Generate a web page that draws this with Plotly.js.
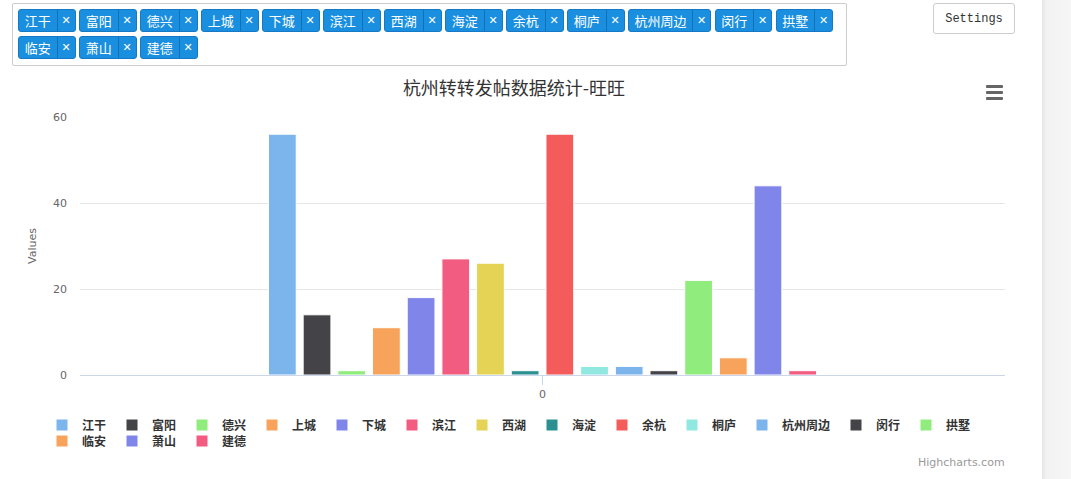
<!DOCTYPE html>
<html>
<head>
<meta charset="utf-8">
<script src="https://cdn.plot.ly/plotly-3.0.1.min.js"></script>
<style>
html,body{margin:0;padding:0;background:#fff;width:1071px;height:479px;overflow:hidden;}
#chart{position:absolute;left:0;top:0;width:1071px;height:479px;}
#tagbox{position:absolute;left:12px;top:3px;width:835px;height:63px;border:1px solid #ccc;border-radius:2px;box-sizing:border-box;}
.tag{position:absolute;display:flex;height:23px;background:#1a8fe0;border:1px solid #1579c6;border-radius:3px;box-sizing:border-box;color:#fff;font-family:"Noto Sans CJK SC",sans-serif;font-size:13px;line-height:21px;overflow:hidden;white-space:nowrap;}
.tag .lb{flex:1 1 auto;text-align:center;}
.tag .x{flex:0 0 17px;width:17px;text-align:center;border-left:1px solid #1470b5;font-size:11px;font-family:"DejaVu Sans",sans-serif;}
#settings{position:absolute;left:933px;top:3px;width:82px;height:31px;border:1px solid #ccc;border-radius:3px;box-sizing:border-box;font-family:"Liberation Mono",monospace;font-size:12px;color:#333;text-align:center;line-height:30px;background:#fff;}
#burger{position:absolute;left:986px;top:85px;width:17px;height:15px;}
#burger div{height:3px;background:#666;margin-bottom:3px;border-radius:1px;}
#shade{position:absolute;left:1042px;top:0;width:29px;height:479px;background:linear-gradient(to right,#e6e6e6 0px,#f2f2f2 5px,#f6f6f6 29px);}
</style>
</head>
<body>
<div id="chart"></div>
<div id="tagbox"></div>
<div id="settings">Settings</div>
<div id="burger"><div></div><div></div><div></div></div>
<div id="shade"></div>
<script>
// ---- data ----
const categories = ['0'];
const seriesNames = ['江干','富阳','德兴','上城','下城','滨江','西湖','海淀','余杭','桐庐','杭州周边','闵行','拱墅','临安','萧山','建德'];
const seriesValues = [56, 14, 1, 11, 18, 27, 26, 1, 56, 2, 2, 1, 22, 4, 44, 1];
const yTickValues = [0, 20, 40, 60];
const yTickLabels = ['0', '20', '40', '60'];
const chartTitle = '杭州转转发帖数据统计-旺旺';
const yAxisTitle = 'Values';
const creditText = 'Highcharts.com';

// ---- styles ----
const palette = ['#7cb5ec','#434348','#90ed7d','#f7a35c','#8085e9','#f15c80','#e4d354','#2b908f','#f45b5b','#91e8e1'];

// tag input (page UI built from the series names)
const box = document.getElementById('tagbox');
(function layoutTags() {
  const innerLeft = 5, innerRight = 835 - 2 - 5, rowTop = [5, 32];
  let x = innerLeft, row = 0;
  seriesNames.forEach(n => {
    const w = 57.5 + (n.length - 2) * 12.75;
    if (x + w > innerRight) { row++; x = innerLeft; }
    const t = document.createElement('div');
    t.className = 'tag';
    t.style.left = x + 'px';
    t.style.top = rowTop[row] + 'px';
    t.style.width = w + 'px';
    t.innerHTML = '<span class="lb">' + n + '</span><span class="x">\u2715</span>';
    box.appendChild(t);
    x += w + 3.5;
  });
})();

const plotL = 80, plotR = 1005, plotT = 117, plotB = 375;
const plotW = plotR - plotL, plotH = plotB - plotT;
const py = px => (plotB - px) / plotH;
const pxX = px => (px - plotL) / plotW;

const traces = seriesNames.map((n, i) => ({
  type: 'bar',
  name: n,
  x: categories,
  y: [seriesValues[i]],
  marker: {color: palette[i % palette.length], line: {color: '#ffffff', width: 1}},
  legend: i < 13 ? 'legend' : 'legend2',
  legendwidth: n.length * 12 + 1,
  hoverinfo: 'name+y'
}));

const legendFont = {family: '"Noto Sans CJK SC", sans-serif', size: 12, color: '#333333', weight: 'bold'};

const layout = {
  width: 1071, height: 479,
  margin: {l: plotL, r: 1071 - plotR, t: plotT, b: 479 - plotB, autoexpand: false},
  paper_bgcolor: 'rgba(0,0,0,0)', plot_bgcolor: 'rgba(0,0,0,0)',
  font: {family: '"DejaVu Sans", "Noto Sans CJK SC", sans-serif', color: '#666666', size: 11},
  title: {
    text: chartTitle, xref: 'container', x: 514 / 1071, xanchor: 'center',
    yref: 'container', y: 1 - 89 / 479, yanchor: 'middle',
    font: {family: '"Noto Sans CJK SC", sans-serif', size: 18, color: '#333333'}
  },
  barmode: 'group', bargap: 0.4, bargroupgap: 0.2,
  xaxis: {
    type: 'category', showline: true, linecolor: '#ccd6eb', linewidth: 1,
    ticks: 'outside', ticklen: 9, tickcolor: '#ccd6eb', tickwidth: 1,
    tickfont: {size: 11, color: '#666666'}, showgrid: false, zeroline: false, fixedrange: true
  },
  yaxis: {
    range: [0, 60], tickvals: yTickValues, ticktext: yTickLabels,
    gridcolor: '#e6e6e6', gridwidth: 1, showline: false, zeroline: false, ticks: '',
    ticklabelstandoff: 12, tickfont: {size: 11, color: '#666666'},
    title: {text: yAxisTitle, font: {size: 11, color: '#666666'}, standoff: 14},
    fixedrange: true
  },
  showlegend: true,
  legend: {orientation: 'h', x: pxX(42), xanchor: 'left', y: py(425), yanchor: 'middle',
           font: legendFont, bgcolor: 'rgba(0,0,0,0)', borderwidth: 0, itemclick: false, itemdoubleclick: false},
  legend2: {orientation: 'h', x: pxX(42), xanchor: 'left', y: py(441), yanchor: 'middle',
           font: legendFont, bgcolor: 'rgba(0,0,0,0)', borderwidth: 0, itemclick: false, itemdoubleclick: false},
  annotations: [{
    text: creditText, showarrow: false, xref: 'paper', x: 1, xanchor: 'right', xshift: 2,
    yref: 'paper', y: py(462), yanchor: 'middle', font: {size: 11, color: '#999999'}
  }]
};

Plotly.newPlot('chart', traces, layout, {displayModeBar: false, responsive: false});
</script>
</body>
</html>
